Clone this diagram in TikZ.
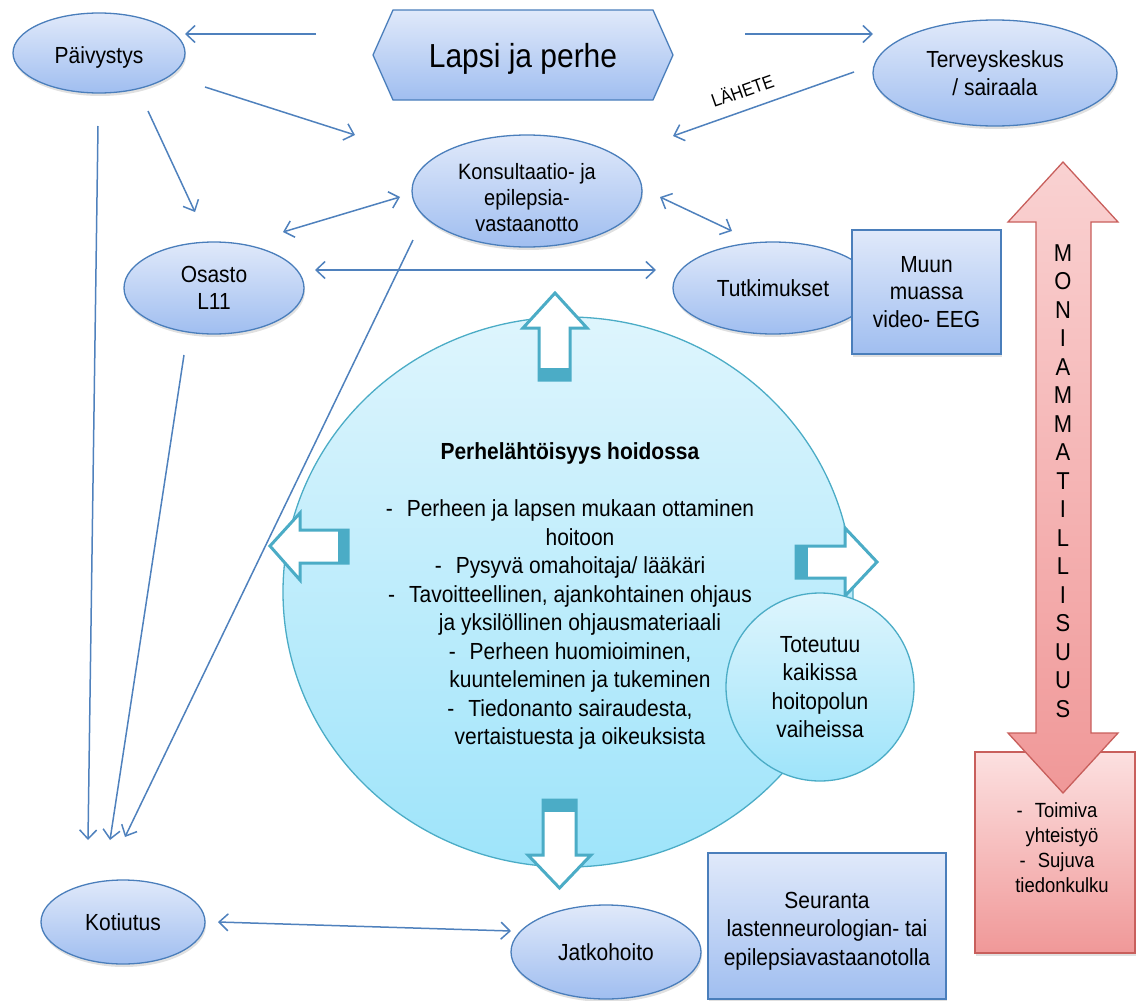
\documentclass[tikz,border=0pt]{standalone}
\usepackage{fontspec}
\setmainfont[FakeStretch=0.9]{Liberation Sans}
\usetikzlibrary{shapes.geometric, arrows.meta, shadows}

\definecolor{ovalline}{RGB}{74,126,187}
\definecolor{ovaltop}{RGB}{224,233,250}
\definecolor{ovalbot}{RGB}{160,190,240}
\definecolor{linkblue}{RGB}{79,129,189}
\definecolor{tealline}{RGB}{75,172,198}
\definecolor{circtop}{RGB}{222,245,253}
\definecolor{circbot}{RGB}{158,228,250}
\definecolor{redline}{RGB}{200,95,92}
\definecolor{pinktop}{RGB}{252,224,224}
\definecolor{pinkbot}{RGB}{240,152,152}

\begin{document}
\begin{tikzpicture}[x=1pt, y=-1pt, >={Straight Barb[length=9pt,width=17pt]}]
	\tikzstyle{every node}=[inner sep=0pt, align=center, font=\fontsize{23.3}{27}\selectfont]
	\tikzstyle{oval}=[ellipse, draw=ovalline, line width=1.3pt, top color=ovaltop, bottom color=ovalbot, drop shadow={shadow xshift=1pt, shadow yshift=-3pt, opacity=0.2, fill=black!60}]
	\tikzstyle{bluebox}=[rectangle, draw=ovalline, line width=1.3pt, top color=ovaltop, bottom color=ovalbot, drop shadow={shadow xshift=1pt, shadow yshift=-3pt, opacity=0.2, fill=black!60}]
	\tikzstyle{bubble}=[draw=tealline, line width=1.3pt, top color=circtop, bottom color=circbot]
	\tikzstyle{link}=[draw=linkblue, line width=1.5pt]
	\tikzstyle{openarrow}=[draw=tealline, line width=3pt, fill=white, line join=miter]

	\useasboundingbox (0,0) rectangle (1136,1001);

	% family centred care in the middle
	\node[bubble, ellipse, minimum width=570pt, minimum height=550pt] (perhe) at (568,592) {};
	\node[font=\fontsize{23.3}{28.5}\selectfont] (hoito) at (570,596) {\textbf{Perhelähtöisyys hoidossa}\\[28.5pt]
		-\hspace{14pt}Perheen ja lapsen mukaan ottaminen\\
		\hspace*{20pt}hoitoon\\
		-\hspace{14pt}Pysyvä omahoitaja/ lääkäri\\
		-\hspace{14pt}Tavoitteellinen, ajankohtainen ohjaus\\
		\hspace*{20pt}ja yksilöllinen ohjausmateriaali\\
		-\hspace{14pt}Perheen huomioiminen,\\
		\hspace*{20pt}kuunteleminen ja tukeminen\\
		-\hspace{14pt}Tiedonanto sairaudesta,\\
		\hspace*{20pt}vertaistuesta ja oikeuksista};

	% open block arrows out of the circle
	\path[openarrow] (539,380) -- (539,328) -- (523,328) -- (555,293) -- (587,328) -- (570,328) -- (570,380) -- cycle;
	\fill[tealline] (539,368) rectangle (570,380);
	\path[openarrow] (348,530) -- (300,530) -- (300,513) -- (270,546) -- (300,580) -- (300,563) -- (348,563) -- cycle;
	\fill[tealline] (338,530) rectangle (348,563);
	\path[openarrow] (796,546) -- (845,546) -- (845,528) -- (877,562) -- (845,596) -- (845,578) -- (796,578) -- cycle;
	\fill[tealline] (796,546) rectangle (808,578);
	\path[openarrow] (543,800) -- (576,800) -- (576,855) -- (591,855) -- (559.5,888) -- (528,855) -- (543,855) -- cycle;
	\fill[tealline] (543,800) rectangle (576,812);

	\node[bubble, circle, minimum size=188pt, font=\fontsize{23.3}{28.5}\selectfont] (toteutuu) at (820,687) {Toteutuu\\kaikissa\\hoitopolun\\vaiheissa};

	% child and family
	\path[draw=ovalline, line width=1.3pt, top color=ovaltop, bottom color=ovalbot] (373,55) -- (393,10) -- (653,10) -- (673,55) -- (653,100) -- (393,100) -- cycle;
	\node[font=\fontsize{33.3}{40}\selectfont] (lapsi) at (523,59) {Lapsi ja perhe};

	\node[oval, minimum width=172pt, minimum height=80pt, text height=26pt] (paiv) at (99,53) {Päivystys};
	\node[oval, minimum width=244pt, minimum height=106pt, font=\fontsize{23.3}{28}\selectfont] (terv) at (995,73) {Terveyskeskus\\/ sairaala};
	\node[oval, minimum width=230pt, minimum height=112pt, label={[font=\fontsize{22.2}{26}\selectfont, yshift=-7pt]center:{Konsultaatio- ja\\epilepsia-\\vastaanotto}}] (kons) at (527,191) {};
	\node[oval, minimum width=180pt, minimum height=92pt] (osasto) at (214,288) {Osasto\\L11};
	\node[oval, minimum width=200pt, minimum height=92pt] (tutk) at (773,288) {Tutkimukset};
	\node[bluebox, minimum width=149pt, minimum height=124pt, font=\fontsize{23.3}{27.5}\selectfont] (muun) at (926.5,292) {Muun\\muassa\\video- EEG};
	\node[oval, minimum width=164pt, minimum height=84pt] (koti) at (123,922) {Kotiutus};
	\node[oval, minimum width=190pt, minimum height=94pt] (jatko) at (606,952) {Jatkohoito};
	\node[bluebox, minimum width=238pt, minimum height=146pt, label={[font=\fontsize{23.3}{28.5}\selectfont, yshift=-5pt]center:{Seuranta\\lastenneurologian- tai\\epilepsiavastaanotolla}}] (seur) at (827,926) {};

	% multiprofessional cooperation
	\node[rectangle, draw=redline, line width=1.3pt, top color=pinktop, bottom color=pinkbot, minimum width=160pt, minimum height=201pt, drop shadow={shadow xshift=1pt, shadow yshift=-3pt, opacity=0.2, fill=black!60}] (yhteis) at (1055,852.5) {};
	\node[font=\fontsize{20.5}{25}\selectfont] (yhteisteksti) at (1057,848) {-\hspace{12pt}Toimiva\\\hspace*{10pt}yhteistyö\\-\hspace{12pt}Sujuva\\\hspace*{10pt}tiedonkulku};
	\path[draw=redline, line width=1.3pt, top color=pinktop!80!pinkbot, bottom color=pinkbot] (1063,162) -- (1118,222) -- (1091,222) -- (1091,733) -- (1118,733) -- (1063,793) -- (1008,733) -- (1036,733) -- (1036,222) -- (1008,222) -- cycle;
	\node[font=\fontsize{24.4}{28.5}\selectfont] (moni) at (1063,481) {M\\O\\N\\I\\A\\M\\M\\A\\T\\I\\L\\L\\I\\S\\U\\U\\S};

	% connector ends
	\coordinate (lapsiW) at (316,34);
	\coordinate (paivE) at (185,34);
	\coordinate (lapsiE) at (745,34);
	\coordinate (tervW) at (873,34);
	\coordinate (tervSW) at (854,72);
	\coordinate (konsNE) at (673,136);
	\coordinate (paivSE) at (205,87);
	\coordinate (konsNW) at (355,135);
	\coordinate (paivS) at (148,111);
	\coordinate (osastoN) at (195,212);
	\coordinate (osastoNE) at (283,232);
	\coordinate (konsW) at (400,197);
	\coordinate (konsE) at (660,197);
	\coordinate (tutkNW) at (732,231);
	\coordinate (osastoE) at (315,270);
	\coordinate (tutkW) at (656,270);
	\coordinate (paivSW) at (98,126);
	\coordinate (kotiN1) at (88,840);
	\coordinate (osastoS) at (184,355);
	\coordinate (kotiN2) at (110,840);
	\coordinate (konsSW) at (413,240);
	\coordinate (kotiN3) at (125,837);
	\coordinate (kotiE) at (218,922);
	\coordinate (jatkoW) at (511,931);

	\draw[link, ->] (lapsiW) -- (paivE);
	\draw[link, ->] (lapsiE) -- (tervW);
	\draw[link, ->] (tervSW) -- (konsNE) node[pos=0.58, above=12pt, sloped, font=\fontsize{18.5}{22}\selectfont] {LÄHETE};
	\draw[link, ->] (paivSE) -- (konsNW);
	\draw[link, ->] (paivS) -- (osastoN);
	\draw[link, <->] (osastoNE) -- (konsW);
	\draw[link, <->] (konsE) -- (tutkNW);
	\draw[link, <->] (osastoE) -- (tutkW);
	\draw[link, ->] (paivSW) -- (kotiN1);
	\draw[link, ->] (osastoS) -- (kotiN2);
	\draw[link, ->] (konsSW) -- (kotiN3);
	\draw[link, <->] (kotiE) -- (jatkoW);
\end{tikzpicture}
\end{document}
